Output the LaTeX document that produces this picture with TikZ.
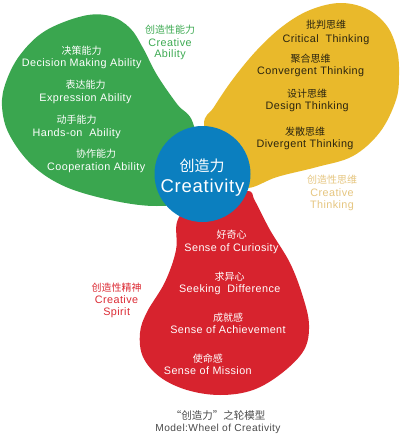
\documentclass[tikz,border=0pt]{standalone}
\usepackage{fontspec}
\newfontfamily\latf{Liberation Sans}[LetterSpace=4]
\newfontfamily\cjkf{Noto Sans CJK SC}
\definecolor{cgreen}{HTML}{3AA64F}
\definecolor{cyellow}{HTML}{E9B92B}
\definecolor{cred}{HTML}{D7232E}
\definecolor{cblue}{HTML}{0B7FBF}
\definecolor{ctan}{HTML}{E6C680}
\definecolor{cdark}{HTML}{2A2410}
\definecolor{cgray}{HTML}{4A4A4A}
\definecolor{cgtext}{HTML}{3DAA52}
\definecolor{crtext}{HTML}{DC2A33}
\tikzset{
  cjk/.style={anchor=base, inner sep=0pt, font=\cjkf\fontsize{10}{12}\selectfont},
  lat/.style={anchor=base, inner sep=0pt, font=\latf\fontsize{10.8}{13}\selectfont},
  onwhite/.style={text=white},
  ondark/.style={text=cdark},
  blob/.style={draw=none},
}
\newcommand\twoline[7]{%
  \node[cjk,#7] (#1c) at (#2,#3+3.8) {#5};
  \node[lat,#7] (#1e) at (#2,#4+3.9) {#6};}
\begin{document}
\begin{tikzpicture}[x=1pt,y=-1pt]
\useasboundingbox (0,0) rectangle (400,434);
\fill[white] (0,0) rectangle (400,434);
% green blob
\fill[cgreen, blob] plot[smooth cycle, tension=0.6] coordinates {(200,172) (193,123) (177,104) (157,75) (143,48) (130,28) (110,16) (83,16) (45,31) (20,55) (6,82) (2,106) (9,134) (32,165) (66,187) (115,201) (157,206) (185,200)};
% yellow blob
\fill[cyellow, blob] plot[smooth cycle, tension=0.6] coordinates {(215,172) (204,125) (214,107) (233,79) (257,50) (283,26) (310,10) (340,3) (367,9) (387,26) (397,50) (399,75) (396,100) (380,132) (353,156) (317,167) (277,177) (248,188) (225,180)};
% red blob
\fill[cred, blob] plot[smooth cycle, tension=0.6] coordinates {(210,200) (247,191) (255,201) (270,230) (290,263) (303,297) (309,325) (304,350) (282,373) (253,390) (220,395) (187,390) (160,377) (143,357) (140,333) (147,312) (165,282) (176,250) (177,222) (190,205)};
% centre circle
\node[circle, fill=cblue, minimum size=96pt, inner sep=0pt] (hub) at (202.5,174) {};
\node[anchor=base, inner sep=0pt, text=white, font=\cjkf\fontsize{15}{18}\selectfont] (hubc) at (202,171.5) {创造力};
\node[anchor=base, inner sep=0pt, text=white, font=\latf\fontsize{18.5}{22}\selectfont] (hube) at (202.5,192.7) {Creativity};
% green texts
\twoline{g1}{81.7}{50.7}{62.7}{决策能力}{Decision Making Ability}{onwhite}
\twoline{g2}{85.5}{85}{97.7}{表达能力}{Expression Ability}{onwhite}
\twoline{g3}{76.7}{120}{132.3}{动手能力}{Hands-on~ Ability}{onwhite}
\twoline{g4}{96.2}{153.3}{166.5}{协作能力}{Cooperation Ability}{onwhite}
% yellow texts
\twoline{y1}{326}{25}{38.3}{批判思维}{Critical~ Thinking}{ondark}
\twoline{y2}{310.7}{58.7}{71}{聚合思维}{Convergent Thinking}{ondark}
\twoline{y3}{307.2}{93.3}{106}{设计思维}{Design Thinking}{ondark}
\twoline{y4}{305}{131.7}{144}{发散思维}{Divergent Thinking}{ondark}
% red texts
\twoline{r1}{231.5}{235}{248}{好奇心}{Sense of Curiosity}{onwhite}
\twoline{r2}{229.7}{276.7}{289}{求异心}{Seeking~ Difference}{onwhite}
\twoline{r3}{228}{317.3}{330}{成就感}{Sense of Achievement}{onwhite}
\twoline{r4}{207.8}{358.3}{370.3}{使命感}{Sense of Mission}{onwhite}
% category labels
\twoline{gl}{170}{30}{42.7}{创造性能力}{Creative}{text=cgtext}
\node[lat, text=cgtext] (gl2) at (170,54+3.9) {Ability};
\twoline{yl}{332}{180}{192.3}{创造性思维}{Creative}{text=ctan}
\node[lat, text=ctan] (yl2) at (332,204.3+3.9) {Thinking};
\twoline{rl}{116.5}{287.7}{300}{创造性精神}{Creative}{text=crtext}
\node[lat, text=crtext] (rl2) at (116.7,311.7+3.9) {Spirit};
% caption
\node[anchor=base, inner sep=0pt, text=cgray, font=\cjkf\fontsize{10.5}{12}\selectfont] (capc) at (218,415+4) {“创造力”之轮模型};
\node[anchor=base, inner sep=0pt, text=cgray, font=\latf\fontsize{10.2}{12}\selectfont] (cape) at (218,427.3+3.7) {Model:Wheel of Creativity};
\end{tikzpicture}
\end{document}
